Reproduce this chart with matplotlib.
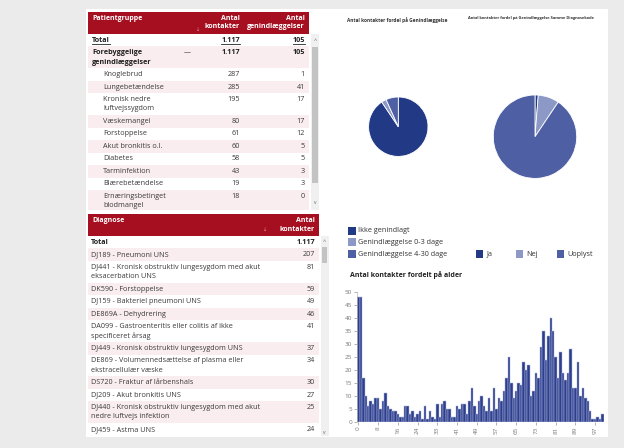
import matplotlib
matplotlib.use("Agg")
import matplotlib.pyplot as plt
from matplotlib.patches import Rectangle

FONT = ["Open Sans", "DejaVu Sans"]
plt.rcParams["font.family"] = FONT

# ---------------- data ----------------
total_contacts = 1117
total_readmissions = 105
group_label = "Forebyggelige\ngenindlæggelser"
group_contacts = 1117
group_readmissions = 105

patient_groups = ["Knoglebrud", "Lungebetændelse", "Kronisk nedre\nluftvejssygdom",
                  "Væskemangel", "Forstoppelse", "Akut bronkitis o.l.", "Diabetes",
                  "Tarminfektion", "Blærebetændelse", "Ernæringsbetinget\nblodmangel"]
pg_contacts = [287, 285, 195, 80, 61, 60, 58, 43, 19, 18]
pg_readmissions = [1, 41, 17, 17, 12, 5, 5, 3, 3, 0]

diagnoses = ["DJ189 - Pneumoni UNS",
             "DJ441 - Kronisk obstruktiv lungesygdom med akut\neksacerbation UNS",
             "DK590 - Forstoppelse",
             "DJ159 - Bakteriel pneumoni UNS",
             "DE869A - Dehydrering",
             "DA099 - Gastroenteritis eller colitis af ikke\nspecificeret årsag",
             "DJ449 - Kronisk obstruktiv lungesygdom UNS",
             "DE869 - Volumennedsættelse af plasma eller\nekstracellulær væske",
             "DS720 - Fraktur af lårbenshals",
             "DJ209 - Akut bronkitis UNS",
             "DJ440 - Kronisk obstruktiv lungesygdom med akut\nnedre luftvejs infektion",
             "DJ459 - Astma UNS"]
diag_contacts = [207, 81, 59, 49, 46, 41, 37, 34, 30, 27, 25, 24]

readm_labels = ["Ikke genindlagt", "Genindlæggelse 0-3 dage", "Genindlæggelse 4-30 dage"]
readm_values = [1012, 30, 75]
same_labels = ["Ja", "Nej", "Uoplyst"]
same_values = [14, 91, 1012]

ages = list(range(0, 32)) + list(range(33, 101))
age_counts = [48, 48, 17, 10, 6, 8, 7, 9, 9, 5,
              8, 11, 6, 5, 4, 4, 3, 2, 2, 6,
              6, 3, 4, 2, 3, 4, 1, 6, 1, 4,
              2, 1, 7, 2, 7, 8, 5, 5, 2, 2,
              6, 5, 7, 7, 3, 8, 13, 6, 3, 8,
              10, 6, 4, 9, 4, 13, 5, 9, 8, 12,
              17, 25, 15, 9, 12, 15, 14, 23, 20, 22,
              10, 12, 19, 17, 29, 35, 24, 33, 40, 35,
              25, 17, 27, 19, 16, 19, 28, 13, 13, 23,
              10, 13, 9, 8, 4, 1, 1, 2, 1, 3]

# ---------------- style ----------------
W, H = 624, 448
RED = "#a50f1f"
PINK = "#f9edef"
TXT = "#3a3a3a"
DARK = "#223a85"
LIGHT = "#8c98c6"
MED = "#4e60a3"
BAR = "#2d3e8d"

fig = plt.figure(figsize=(6.24, 4.48), dpi=100, facecolor="#ebebeb")
bg = fig.add_axes([0, 0, 1, 1])
bg.set_xlim(0, W)
bg.set_ylim(H, 0)
bg.axis("off")


def rect(x, y, w, h, color, z=1):
    bg.add_patch(Rectangle((x, y), w, h, facecolor=color, edgecolor="none", zorder=z))


def txt(x, y, s, size=5.2, color=TXT, ha="left", weight="normal", va="center", **kw):
    return bg.text(x, y, s, fontsize=size, color=color, ha=ha, va=va,
                   fontweight=weight, zorder=5, **kw)


def fmt(v):
    return f"{v:,}".replace(",", ".")


rect(86, 9, 522, 428, "white", 0)

renderer = fig.canvas.get_renderer()


def underline(t, y):
    bb = t.get_window_extent(renderer)
    inv = bg.transData.inverted()
    (x0, _), (x1, _) = inv.transform([(bb.x0, bb.y0), (bb.x1, bb.y1)])
    bg.plot([x0, x1], [y, y], color=t.get_color(), lw=0.6, zorder=5)


# ---------------- table 1 ----------------
rect(88, 12, 221, 22, RED, 2)
HS = 5.0
txt(92, 18, "Patientgruppe", size=HS, color="white", weight="bold")
txt(240, 18, "Antal", size=HS, color="white", weight="bold", ha="right")
txt(240, 27, "kontakter", size=HS, color="white", weight="bold", ha="right")
txt(305, 18, "Antal", size=HS, color="white", weight="bold", ha="right")
txt(305, 27, "genindlæggelser", size=HS, color="white", weight="bold", ha="right")
txt(198, 29.5, "↓", size=3.5, color="#e6a7b0", ha="center")

rows1 = [("Total", total_contacts, total_readmissions, "total"),
         (group_label, group_contacts, group_readmissions, "group")]
rows1 += [(l, c, r, "child") for l, c, r in zip(patient_groups, pg_contacts, pg_readmissions)]

y = 34.0
for i, (label, c, r, kind) in enumerate(rows1):
    lines = label.split("\n")
    h = 12.5 if len(lines) == 1 else 21.8
    if i % 2 == 1:
        rect(88, y, 221, min(y + h, 210) - y, PINK, 1)
    wt = "bold" if kind in ("total", "group") else "normal"
    x = 103 if kind == "child" else 92
    for k, ln in enumerate(lines):
        t = txt(x, y + 6.25 + k * 9.3, ln, weight=wt, color="#222" if wt == "bold" else TXT)
        if kind == "total":
            underline(t, y + 10.2)
    t1 = txt(240, y + 6.25, fmt(c), ha="right", weight=wt, color="#222" if wt == "bold" else TXT)
    t2 = txt(305, y + 6.25, fmt(r), ha="right", weight=wt, color="#222" if wt == "bold" else TXT)
    if kind == "total":
        underline(t1, y + 10.2)
        underline(t2, y + 10.2)
    if kind == "group":
        txt(187, y + 6.0, "—", size=5, color="#333", ha="center")
    y += h

# scrollbar 1
rect(311, 34, 8, 176, "#f0f0f0", 2)
rect(312.3, 47, 5.6, 136, "#c3c3c3", 3)
txt(315, 40.5, "^", size=4, color="#666", ha="center")
txt(315, 202, "v", size=3.6, color="#666", ha="center")

# ---------------- table 2 ----------------
rect(88, 214, 231, 22, RED, 2)
txt(92, 220, "Diagnose", size=HS, color="white", weight="bold")
txt(315, 220, "Antal", size=HS, color="white", weight="bold", ha="right")
txt(315, 229.3, "kontakter", size=HS, color="white", weight="bold", ha="right")
txt(265, 229.5, "↓", size=3.5, color="#e6a7b0", ha="center")

rows2 = [("Total", total_contacts, "total")] + [(d, c, "row") for d, c in zip(diagnoses, diag_contacts)]
y = 236.0
for i, (label, c, kind) in enumerate(rows2):
    lines = label.split("\n")
    h = 12.5 if len(lines) == 1 else 21.8
    if i % 2 == 1:
        rect(88, y, 231, h, PINK, 1)
    wt = "bold" if kind == "total" else "normal"
    col = "#222" if wt == "bold" else TXT
    for k, ln in enumerate(lines):
        txt(91, y + 6.25 + k * 9.3, ln, weight=wt, color=col)
    txt(315, y + 6.25, fmt(c), ha="right", weight=wt, color=col)
    y += h

rect(320.5, 236, 8, 200, "#f0f0f0", 2)
rect(321.7, 247.5, 5.6, 16, "#c3c3c3", 3)
txt(324.5, 241, "^", size=4, color="#666", ha="center")
txt(324.5, 432.5, "v", size=3.6, color="#666", ha="center")

# ---------------- pies ----------------
txt(347, 20, "Antal kontakter fordel på Genindlæggelse", size=3.4, weight="bold", color="#333")
txt(468, 18, "Antal kontakter fordel på Genindlæggelse Samme Diagnosekode", size=2.9,
    weight="bold", color="#333")


def pie_axes(cx, cy, r):
    s = 1.1 * r
    return fig.add_axes([(cx - s) / W, (H - cy - s) / H, 2 * s / W, 2 * s / H])


ax1 = pie_axes(398.3, 126.7, 29.7)
ax1.pie(readm_values, colors=[DARK, LIGHT, MED], startangle=90, counterclock=False,
        wedgeprops=dict(edgecolor="white", linewidth=0.6))
ax1.set_xlim(-1.1, 1.1)
ax1.set_ylim(-1.1, 1.1)
ax1.set_aspect("equal")

ax2 = pie_axes(535, 136.7, 41.7)
ax2.pie(same_values, colors=[DARK, LIGHT, MED], startangle=90, counterclock=False,
        wedgeprops=dict(edgecolor="white", linewidth=0.6))
ax2.set_xlim(-1.1, 1.1)
ax2.set_ylim(-1.1, 1.1)
ax2.set_aspect("equal")

# legends
for lab, col, yy in zip(readm_labels, [DARK, LIGHT, MED], [231, 242, 254]):
    rect(348.3, yy - 3.7, 7.5, 7.4, col, 3)
    txt(358.3, yy, lab, size=5.2, color="#333")
for lab, col, xx in zip(same_labels, [DARK, LIGHT, MED], [475.7, 515.7, 556.7]):
    rect(xx, 254 - 3.7, 7.5, 7.4, col, 3)
    txt(xx + 10.5, 254, lab, size=5.2, color="#333")

# ---------------- histogram ----------------
txt(350, 275, "Antal kontakter fordelt på alder", size=5.0, weight="bold", color="#222")

x0, x1 = 357.1, 603.8
yb, yt = 421.7, 292.3
axh = fig.add_axes([x0 / W, (H - yb) / H, (x1 - x0) / W, (yb - yt) / H])
axh.set_facecolor("none")
xs = list(range(len(ages)))
axh.bar(xs, age_counts, width=1.0, color=BAR, edgecolor="#aeb7dc", linewidth=0.35)
axh.set_xlim(-0.5, len(ages) - 0.5)
axh.set_ylim(0, 50)
axh.set_yticks(range(0, 51, 5))
tick_idx = list(range(0, len(ages), 8))
axh.set_xticks(tick_idx)
axh.set_xticklabels([str(ages[i]) for i in tick_idx], rotation=90)
axh.tick_params(axis="both", labelsize=4.6, colors="#777", length=2, width=0.4, pad=1.5)
for s in ["top", "right", "bottom"]:
    axh.spines[s].set_visible(False)
axh.spines["left"].set_color("#bbbbbb")
axh.spines["left"].set_linewidth(0.5)

fig.savefig("out.png", dpi=100, facecolor=fig.get_facecolor())
